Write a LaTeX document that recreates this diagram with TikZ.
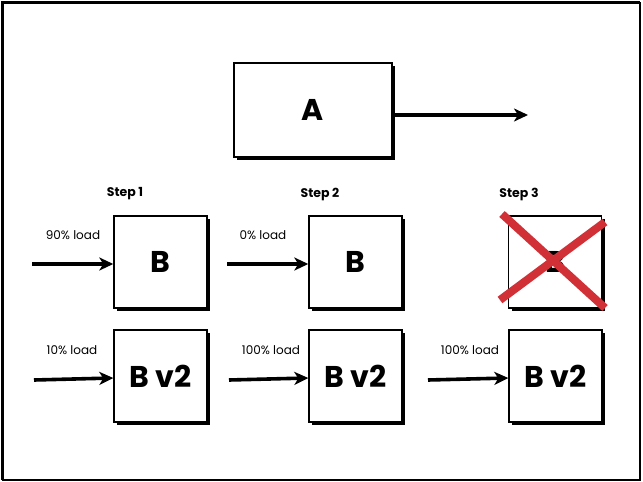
\documentclass[tikz,border=0pt]{standalone}
\usepackage{fontspec}
\setmainfont{Poppins}
\usetikzlibrary{arrows.meta,shadows}
\definecolor{xred}{RGB}{208,48,54}
\tikzset{
  box/.style={draw, line width=1.4pt, fill=white, inner sep=0pt,
    minimum width=93pt, minimum height=92pt, font=\fontsize{30}{32}\selectfont\bfseries,
    drop shadow={shadow xshift=3pt, shadow yshift=-3pt, fill=black, opacity=1}},
  conn/.style={draw=black, line width=3.6pt, arrows={-Stealth[length=14pt,width=13pt,inset=4pt]}},
  lbl/.style={font=\fontsize{12}{14}\selectfont},
  steplbl/.style={font=\fontsize{12.5}{14}\selectfont\bfseries},
}
\begin{document}
\begin{tikzpicture}[x=1pt,y=-1pt]
\useasboundingbox (0,0) rectangle (643,482);
% frame
\draw[line width=1.2pt] (640,2) -- (640,480) -- (2,480);
\draw[line width=3pt] (2,480) -- (2,2) -- (640,2);
% A
\node[box, minimum width=158pt, minimum height=94pt] (A) at (313,110) {A};
\coordinate (Aend) at (528,115);
\path[conn] (A.east |- Aend) -- (Aend);
% step labels
\node[steplbl] (s1) at (125,194) {Step 1};
\node[steplbl] (s2) at (320,194) {Step 2};
\node[steplbl] (s3) at (519,194) {Step 3};
% row 1
\node[box] (b1) at (160.5,262) {B};
\node[box] (b2) at (355.5,262) {B};
\node[box] (b3) at (555,262) {B};
% row 2
\node[box] (c1) at (160.5,376) {B v2};
\node[box] (c2) at (355.5,376) {B v2};
\node[box] (c3) at (555.5,376) {B v2};
% load labels
\node[lbl] (l1) at (73,235) {90\% load};
\node[lbl] (l2) at (263,235) {0\% load};
\node[lbl] (l3) at (72,350) {10\% load};
\node[lbl] (l4) at (271,350) {100\% load};
\node[lbl] (l5) at (470,350) {100\% load};
% arrows
\coordinate (p1) at (32,264);
\coordinate (p2) at (227,264);
\coordinate (q1) at (34,380);
\coordinate (q2) at (229,380);
\coordinate (q3) at (428,380);
\path[conn] (p1) -- (b1.west |- p1);
\path[conn] (p2) -- (b2.west |- p2);
\path[conn] (q1) -- ([yshift=-2pt]c1.west);
\path[conn] (q2) -- ([yshift=-2pt]c2.west);
\path[conn] (q3) -- ([yshift=-2pt]c3.west);
% red cross
\coordinate (x1) at (502,214);
\coordinate (x2) at (605,308);
\coordinate (x3) at (605,222);
\coordinate (x4) at (500,300);
\draw[xred, line width=8pt] (x1) -- (x2);
\draw[xred, line width=8pt] (x3) -- (x4);
\end{tikzpicture}
\end{document}
